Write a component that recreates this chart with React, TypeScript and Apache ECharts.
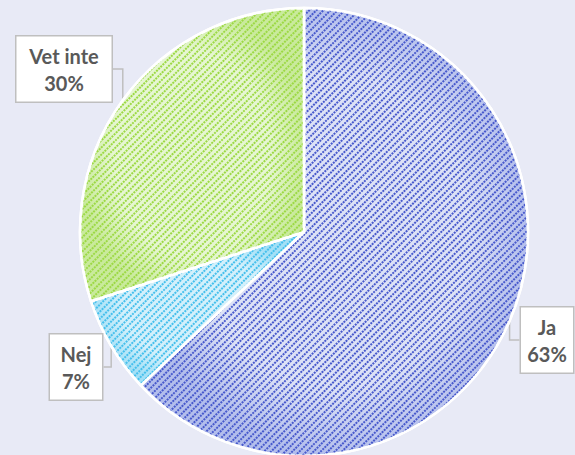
import React, { useEffect, useRef } from "react";
import * as echarts from "echarts";

const categories = ["Ja", "Nej", "Vet inte"];
const values = [63, 7, 30];
const stripeColors = ["#4759CC", "#45BFEC", "#9CD944"];
const baseInner = ["#DDE2F6", "#D3F0FB", "#E6F6D2"];
const baseOuter = ["#B3BEEC", "#A3E0F6", "#C9EA9C"];
const labelWidths = [36, 36, 79];
const labelPos = [
  { x: 547, y: 340 },
  { x: 76, y: 367 },
  { x: 64, y: 69 },
];

export default function App() {
  const ref = useRef<HTMLDivElement>(null);
  useEffect(() => {
    if (!ref.current) return;
    const chart = echarts.init(ref.current, null, { renderer: "svg" });
    const data = categories.map((name, i) => ({
      name,
      value: values[i],
      label: { width: labelWidths[i] },
      itemStyle: {
        color: {
          type: "radial",
          x: 0.5,
          y: 0.5,
          r: 0.5,
          colorStops: [
            { offset: 0, color: baseInner[i] },
            { offset: 0.7, color: baseInner[i] },
            { offset: 1, color: baseOuter[i] },
          ],
        },
        decal: {
          symbol: "rect",
          symbolSize: 1,
          color: stripeColors[i],
          dashArrayX: [2, 1],
          dashArrayY: [1.8, 2.5],
          rotation: -Math.PI / 4,
        },
      },
    }));
    chart.setOption({
      animation: false,
      backgroundColor: "#E8EAF6",
      series: [
        {
          type: "pie",
          center: [304, 232],
          radius: 224,
          startAngle: 90,
          clockwise: true,
          data,
          itemStyle: { borderColor: "#FFFFFF", borderWidth: 2.5 },
          label: {
            show: true,
            position: "outside",
            formatter: "{t|{b}}\n{t|{d}%}",
            align: "center",
            overflow: "none",
            backgroundColor: "#FFFFFF",
            borderColor: "#BFBFBF",
            borderWidth: 1.5,
            padding: [6, 8, 5, 8],
            rich: {
              t: {
                color: "#595959",
                fontFamily: "Lato",
                fontWeight: "bold",
                fontSize: 20,
                lineHeight: 27,
                align: "center",
              },
            },
          },
          labelLine: {
            show: true,
            lineStyle: { color: "#BFBFBF", width: 1.5 },
          },
          labelLayout: (params: any) => {
            const p = labelPos[params.dataIndex];
            return {
              x: p.x,
              y: p.y,
              align: "center",
              verticalAlign: "middle",
            };
          },
        },
      ],
    });
    return () => chart.dispose();
  }, []);
  return (
    <div
      ref={ref}
      style={{ position: "absolute", left: 0, top: 0, width: 575, height: 455 }}
    />
  );
}
